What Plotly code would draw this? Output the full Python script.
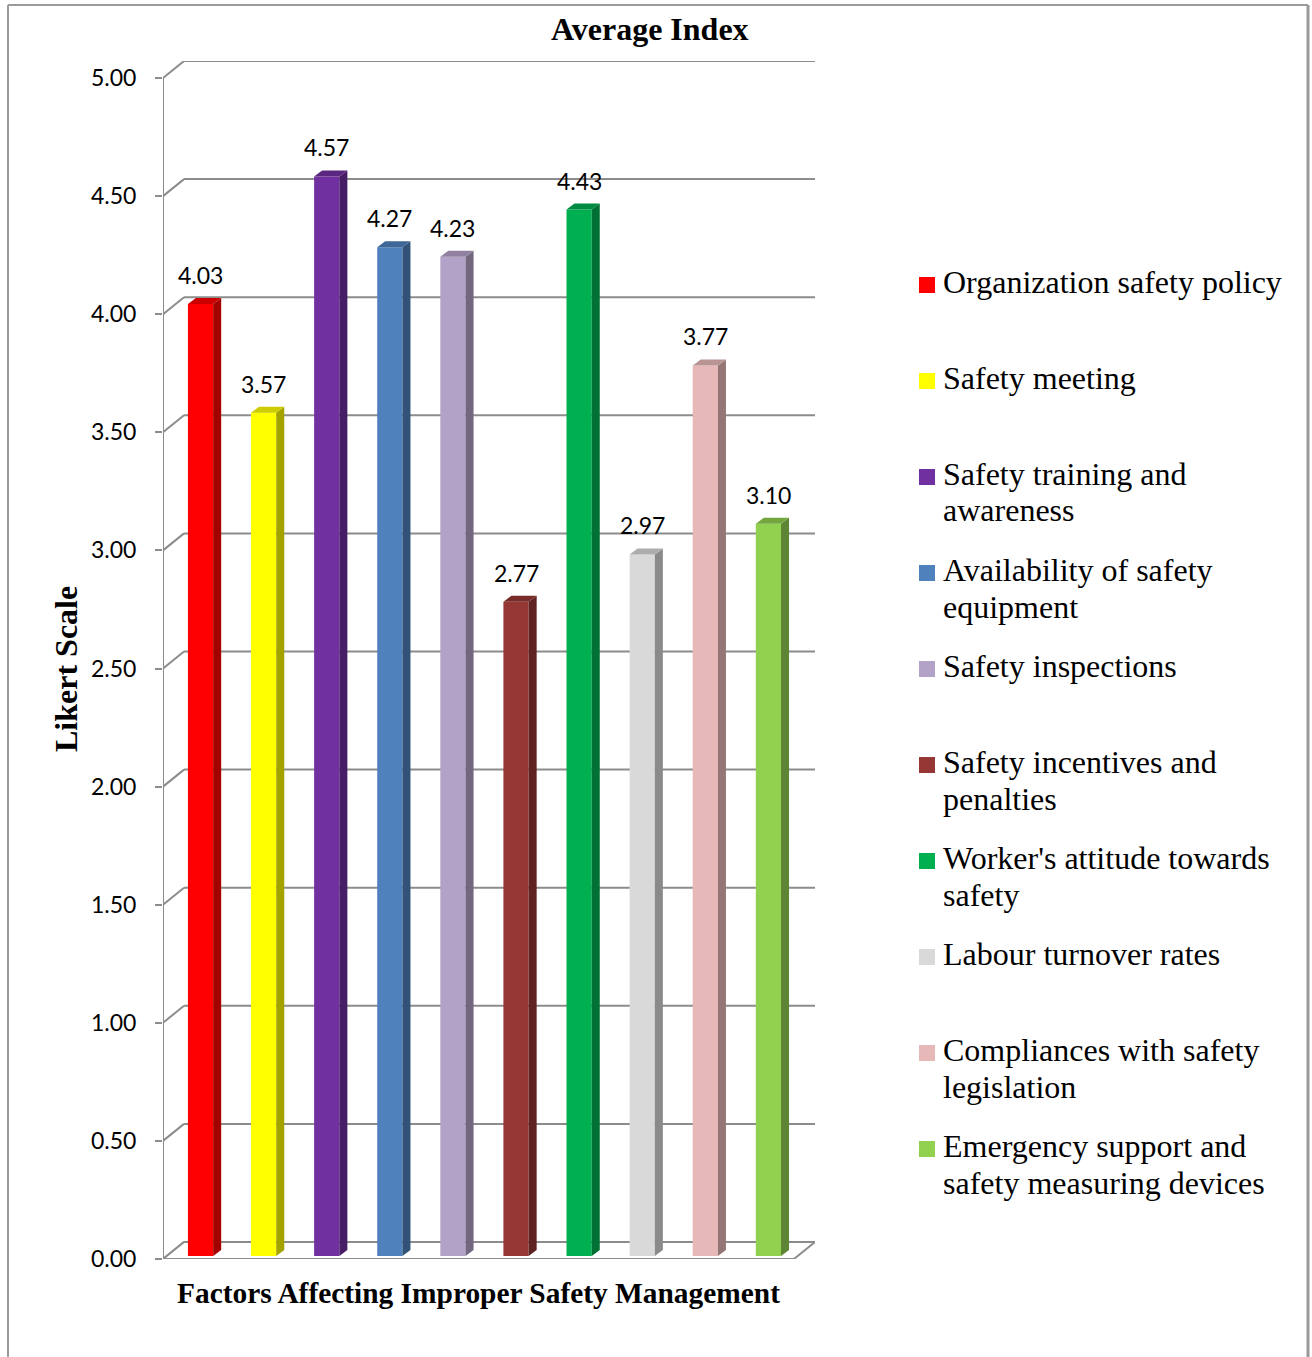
import plotly.graph_objects as go

# ---- data ----
categories = [
    "Organization safety policy",
    "Safety meeting",
    "Safety training and awareness",
    "Availability of safety equipment",
    "Safety inspections",
    "Safety incentives and penalties",
    "Worker's attitude towards safety",
    "Labour turnover rates",
    "Compliances with safety legislation",
    "Emergency support and safety measuring devices",
]
legend_lines = [
    ["Organization safety policy"],
    ["Safety meeting"],
    ["Safety training and", "awareness"],
    ["Availability of safety", "equipment"],
    ["Safety inspections"],
    ["Safety incentives and", "penalties"],
    ["Worker's attitude towards", "safety"],
    ["Labour turnover rates"],
    ["Compliances with safety", "legislation"],
    ["Emergency support and", "safety measuring devices"],
]
average_index = [4.03, 3.57, 4.57, 4.27, 4.23, 2.77, 4.43, 2.97, 3.77, 3.10]
bar_colors = ["#FF0000", "#FFFF00", "#7030A0", "#4F81BD", "#B3A2C7",
              "#953735", "#00B050", "#D9D9D9", "#E6B9B8", "#92D050"]
y_ticks = [0.0, 0.5, 1.0, 1.5, 2.0, 2.5, 3.0, 3.5, 4.0, 4.5, 5.0]

chart_title = "Average Index"
x_title = "Factors Affecting Improper Safety Management"
y_title = "Likert Scale"

# ---- geometry ----
W, H = 1312, 1357
PLOT_L, PLOT_R, PLOT_T, PLOT_B = 163, 815, 61, 1259
N = len(categories)
PX_PER_CAT = 63.0
PX_PER_UNIT = 236.2
DX = 21 / PX_PER_CAT          # depth offset of the back wall (x units)
DY = 17 / PX_PER_UNIT         # depth offset of the back wall (y units)
BAR_X0, BAR_W = 0.395, 0.40   # front face position within a category
BASE = 0.013                  # front face sits slightly inside the floor
DDX, DDY = 8 / PX_PER_CAT, 6 / PX_PER_UNIT   # bar depth
GRID = "#8c8c8c"
SERIF = "Liberation Serif"
SANS = "Lato"


def px(x):
    return x / W


def py(y):
    return 1 - y / H


def shade(hex_color, k):
    r, g, b = (int(hex_color[i:i + 2], 16) for i in (1, 3, 5))
    return "#{:02x}{:02x}{:02x}".format(int(r * k), int(g * k), int(b * k))


fig = go.Figure()
shapes = []
annotations = []

# back wall gridlines and left wall diagonals
for v in y_ticks:
    if v > 0:
        shapes.append(dict(type="line", xref="x", yref="y", x0=DX, x1=N + DX,
                           y0=v + DY, y1=v + DY, line=dict(color=GRID, width=2), layer="below"))
    shapes.append(dict(type="line", xref="x", yref="y", x0=0, x1=DX,
                       y0=v, y1=v + DY, line=dict(color=GRID, width=2), layer="below"))
# front-left edge of the wall
shapes.append(dict(type="line", xref="x", yref="y", x0=0, x1=0, y0=0, y1=y_ticks[-1],
                   line=dict(color=GRID, width=2), layer="below"))
# floor
shapes.append(dict(type="path", xref="x", yref="y",
                   path=f"M 0 0 L {N} 0 L {N + DX} {DY} L {DX} {DY} Z",
                   line=dict(color=GRID, width=2), fillcolor="white", layer="below"))

# bars: front faces
xs_front = [i + BAR_X0 + BAR_W / 2 for i in range(N)]
fig.add_trace(go.Bar(
    x=xs_front, y=average_index, base=[BASE] * N, width=BAR_W,
    marker=dict(color=bar_colors, line=dict(width=0)),
    hoverinfo="skip", showlegend=False,
))

# bars: side and top faces, value labels
for i, (v, c) in enumerate(zip(average_index, bar_colors)):
    x0 = i + BAR_X0
    x1 = x0 + BAR_W
    top = BASE + v
    fig.add_trace(go.Scatter(
        x=[x1, x1 + DDX, x1 + DDX, x1, x1],
        y=[BASE, BASE + DDY, top + DDY, top, BASE],
        mode="lines", fill="toself", fillcolor=shade(c, 0.64),
        line=dict(width=0), hoverinfo="skip", showlegend=False,
    ))
    fig.add_trace(go.Scatter(
        x=[x0, x0 + DDX, x1 + DDX, x1, x0],
        y=[top, top + DDY, top + DDY, top, top],
        mode="lines", fill="toself", fillcolor=shade(c, 0.8),
        line=dict(width=0), hoverinfo="skip", showlegend=False,
    ))
    annotations.append(dict(
        x=x0 + BAR_W / 2, y=top + DDY, xref="x", yref="y",
        text=f"{v:.2f}", showarrow=False, yanchor="middle", yshift=23,
        font=dict(family=SANS, size=23, color="black"),
    ))

# titles
annotations.append(dict(x=px(650), y=py(29), xref="paper", yref="paper", text=f"<b>{chart_title}</b>",
                        showarrow=False, xanchor="center", yanchor="middle",
                        font=dict(family=SERIF, size=32, color="black")))
annotations.append(dict(x=px(478), y=py(1293), xref="paper", yref="paper", text=f"<b>{x_title}</b>",
                        showarrow=False, xanchor="center", yanchor="middle",
                        font=dict(family=SERIF, size=29.4, color="black")))
annotations.append(dict(x=px(66), y=py(669), xref="paper", yref="paper", text=f"<b>{y_title}</b>",
                        showarrow=False, xanchor="center", yanchor="middle", textangle=-90,
                        font=dict(family=SERIF, size=32, color="black")))

# legend
LEG_Y0, LEG_STEP, LEG_LINE = 285, 96, 36.5
for k, (lines, c) in enumerate(zip(legend_lines, bar_colors)):
    yc = LEG_Y0 + k * LEG_STEP
    shapes.append(dict(type="rect", xref="paper", yref="paper",
                       x0=px(919), x1=px(935), y0=py(yc - 8), y1=py(yc + 8),
                       fillcolor=c, line=dict(width=0)))
    for j, t in enumerate(lines):
        annotations.append(dict(x=px(941), y=py(yc + j * LEG_LINE - 3), xref="paper", yref="paper",
                                text=t, showarrow=False, xanchor="left", yanchor="middle",
                                font=dict(family=SERIF, size=32, color="black")))

# outer frame
frame = dict(color="#9a9a9a", width=2)
shapes.append(dict(type="line", xref="paper", yref="paper", x0=px(8), x1=px(1308), y0=py(5), y1=py(5), line=frame))
shapes.append(dict(type="line", xref="paper", yref="paper", x0=px(8), x1=px(8), y0=py(5), y1=0, line=frame))
shapes.append(dict(type="line", xref="paper", yref="paper", x0=px(1308), x1=px(1308), y0=py(5), y1=0,
                   line=dict(color="#9a9a9a", width=3)))

fig.update_layout(
    template="none",
    width=W, height=H,
    margin=dict(l=0, r=0, t=0, b=0),
    paper_bgcolor="white", plot_bgcolor="rgba(0,0,0,0)",
    barmode="overlay",
    showlegend=False,
    shapes=shapes,
    annotations=annotations,
    xaxis=dict(domain=[px(PLOT_L), px(PLOT_R)], range=[0, N + DX],
               showgrid=False, zeroline=False, showline=False,
               showticklabels=False, ticks="", automargin=False, fixedrange=True),
    yaxis=dict(domain=[py(PLOT_B), py(PLOT_T)], range=[0, y_ticks[-1] + DY],
               tickvals=y_ticks, tickformat=".2f",
               ticks="outside", ticklen=7, tickwidth=2, tickcolor=GRID,
               ticklabelstandoff=14,
               tickfont=dict(family=SANS, size=23, color="black"),
               showgrid=False, zeroline=False, showline=False, automargin=False, fixedrange=True),
)

fig.write_html("out.html")
